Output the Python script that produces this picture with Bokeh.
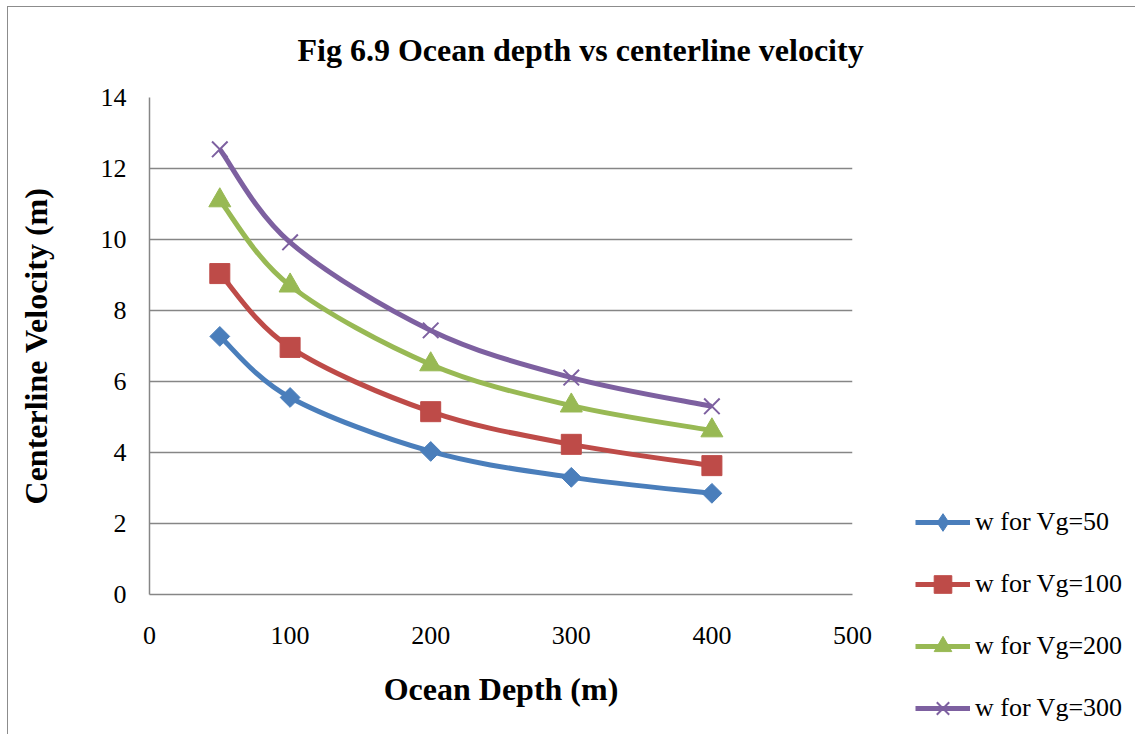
import numpy as np
from bokeh.plotting import figure
from bokeh.models import Range1d, Legend, LegendItem, FixedTicker, Title, Div
from bokeh.embed import file_html
from bokeh.resources import INLINE

# Ocean depth (m) and centerline velocity for each gas velocity Vg
depth = [50, 100, 200, 300, 400]
w_vg50 = [7.27, 5.55, 4.03, 3.30, 2.85]
w_vg100 = [9.04, 6.96, 5.15, 4.23, 3.63]
w_vg200 = [11.10, 8.70, 6.48, 5.32, 4.62]
w_vg300 = [12.54, 9.92, 7.44, 6.11, 5.30]

labels = ["w for Vg=50", "w for Vg=100", "w for Vg=200", "w for Vg=300"]
colors = ["#4A7EBB", "#BE4B48", "#98B954", "#7D60A0"]

x_ticks = [0, 100, 200, 300, 400, 500]
y_ticks = [0, 2, 4, 6, 8, 10, 12, 14]

FONT = "Liberation Serif"
BORDER = "1.5px solid #8c8c8c"

p = figure(width=873, height=736, output_backend="svg", toolbar_location=None,
           x_range=Range1d(0, 500), y_range=Range1d(0, 14),
           min_border_left=140, min_border_right=30,
           min_border_top=97, min_border_bottom=142)
p.styles = {"position": "absolute", "left": "9px", "top": "0px"}

p.title = Title(text="Fig 6.9 Ocean depth vs centerline velocity", align="left",
                text_font=FONT, text_font_size="32px", text_font_style="bold",
                text_color="black", offset=148, standoff=59)

p.outline_line_color = None
p.background_fill_color = "white"
p.border_fill_color = "white"

p.xgrid.grid_line_color = None
p.ygrid.grid_line_color = "#868686"
p.ygrid.grid_line_width = 1.5

for ax in (p.xaxis, p.yaxis):
    ax.axis_line_color = "#868686"
    ax.axis_line_width = 1.5
    ax.major_tick_line_color = None
    ax.minor_tick_line_color = None
    ax.major_label_text_font = FONT
    ax.major_label_text_font_size = "26px"
    ax.major_label_text_color = "black"
    ax.axis_label_text_font = FONT
    ax.axis_label_text_font_size = "32px"
    ax.axis_label_text_font_style = "bold"
    ax.axis_label_text_color = "black"

p.xaxis.ticker = FixedTicker(ticks=x_ticks)
p.yaxis.ticker = FixedTicker(ticks=y_ticks)
p.xaxis.axis_label = "Ocean Depth (m)"
p.yaxis.axis_label = "Centerline Velocity (m)"
p.xaxis.major_label_standoff = 26
p.yaxis.major_label_standoff = 17
p.xaxis.axis_label_standoff = 24
p.yaxis.axis_label_standoff = 44


def smooth_segments(xs, ys):
    """Cubic Bezier control points for a smoothed curve through the points."""
    x = np.asarray(xs, float)
    y = np.asarray(ys, float)
    n = len(x)
    xe = np.concatenate([[x[0]], x, [x[-1]]])
    ye = np.concatenate([[y[0]], y, [y[-1]]])
    seg = dict(x0=[], y0=[], x1=[], y1=[], cx0=[], cy0=[], cx1=[], cy1=[])
    for i in range(n - 1):
        p0x, p0y = xe[i], ye[i]
        p1x, p1y = xe[i + 1], ye[i + 1]
        p2x, p2y = xe[i + 2], ye[i + 2]
        p3x, p3y = xe[i + 3], ye[i + 3]
        seg["x0"].append(p1x); seg["y0"].append(p1y)
        seg["x1"].append(p2x); seg["y1"].append(p2y)
        seg["cx0"].append(p1x + (p2x - p0x) / 6.0)
        seg["cy0"].append(p1y + (p2y - p0y) / 6.0)
        seg["cx1"].append(p2x - (p3x - p1x) / 6.0)
        seg["cy1"].append(p2y - (p3y - p1y) / 6.0)
    return seg


marker_styles = [
    dict(marker="square", size=14, angle=np.pi / 4),   # diamond
    dict(marker="square", size=20),
    dict(marker="triangle", size=22),
    dict(marker="x", size=22, line_width=2),
]
legend_markers = [
    dict(marker="diamond"),
    dict(marker="square"),
    dict(marker="triangle"),
    dict(marker="x", line_width=2),
]

# Separate legend panel to the right of the chart; its ranges keep the
# series themselves out of view so only the legend entries show.
lf = figure(width=261, height=736, output_backend="svg", toolbar_location=None,
            x_range=Range1d(-2, -1), y_range=Range1d(-2, -1),
            x_axis_location=None, y_axis_location=None, min_border=0)
lf.styles = {"position": "absolute", "left": "882px", "top": "0px"}
lf.outline_line_color = None
lf.grid.grid_line_color = None
lf.border_fill_color = "white"
lf.background_fill_color = "white"

items = []
for vals, lab, col, ms, lm in zip([w_vg50, w_vg100, w_vg200, w_vg300],
                                  labels, colors, marker_styles, legend_markers):
    seg = smooth_segments(depth, vals)
    p.bezier(line_color=col, line_width=5, **seg)
    p.scatter(depth, vals, fill_color=col, line_color=col, **ms)
    k_line = lf.line(depth, vals, line_color=col, line_width=5)
    k_pt = lf.scatter(depth, vals, fill_color=col, line_color=col, **lm)
    items.append(LegendItem(label=lab, renderers=[k_line, k_pt]))

legend = Legend(items=items, location=(33, 6), orientation="vertical",
                label_text_font=FONT, label_text_font_size="26px",
                label_text_color="black", glyph_width=55, glyph_height=44,
                label_height=26, spacing=18, label_standoff=5, padding=0,
                margin=0, border_line_color=None, background_fill_alpha=0)
lf.add_layout(legend, "center")

# Chart area frame (left and top edges)
frame_edge = Div(text="", width=1128, height=728, margin=0,
                 styles={"position": "absolute", "left": "7px", "top": "6px",
                         "border-left": BORDER, "border-top": BORDER,
                         "pointer-events": "none"})

open("out.html", "w").write(file_html([p, lf, frame_edge], INLINE))
